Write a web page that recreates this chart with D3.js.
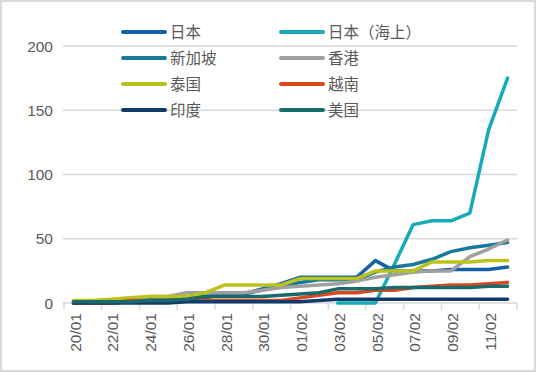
<!DOCTYPE html>
<html>
<head>
<meta charset="utf-8">
<script src="https://d3js.org/d3.v7.min.js"></script>
<style>
  body { margin: 0; background: #fff; }
  svg { display: block; font-family: Arial, "Liberation Sans", "Noto Sans CJK SC", sans-serif; }
  .grid line { stroke: #d9d9d9; stroke-width: 1.5; }
  .tick-lbl { fill: #595959; }
  .series { fill: none; stroke-width: 3.5; stroke-linejoin: round; stroke-linecap: round; }
</style>
</head>
<body>
<svg width="536" height="372"></svg>
<script>
// categories: daily, 20/01 .. 12/02
const dates = ["20/01","21/01","22/01","23/01","24/01","25/01","26/01","27/01","28/01","29/01","30/01","31/01",
               "01/02","02/02","03/02","04/02","05/02","06/02","07/02","08/02","09/02","10/02","11/02","12/02"];
const yTicks = [0, 50, 100, 150, 200];

// series values (null = no data)
const japan     = [1,1,1,1,2,3,4,4,7,7,11,15,20,20,20,20,33,25,25,25,26,26,26,28];
const japanShip = [null,null,null,null,null,null,null,null,null,null,null,null,null,null,0,0,0,30,61,64,64,70,135,175];
const singapore = [0,0,0,1,3,3,4,5,7,7,10,13,16,18,18,18,24,28,30,34,40,43,45,47];
const hongkong  = [0,0,1,2,5,5,8,8,8,8,10,12,13,14,15,17,20,22,24,25,25,36,42,49];
const thailand  = [2,2,3,4,5,5,5,8,14,14,14,14,19,19,19,19,25,25,25,32,32,32,33,33];
const vietnam   = [0,0,0,2,2,2,2,2,2,2,2,2,4,6,8,8,10,10,12,13,14,14,15,16];
const india     = [0,0,0,0,0,0,1,1,1,1,1,1,1,2,3,3,3,3,3,3,3,3,3,3];
const usa       = [1,1,1,1,2,2,3,5,5,5,5,6,7,8,11,11,11,12,12,12,12,12,13,13];

const names  = ["日本", "日本（海上）", "新加坡", "香港", "泰国", "越南", "印度", "美国"];
const colors = ["#1560ab", "#17aab9", "#17799c", "#a0a0a0", "#bcc21c", "#d9481f", "#123b6c", "#186b6c"];
const seriesData = [japan, japanShip, singapore, hongkong, thailand, vietnam, india, usa];

const svg = d3.select("svg");

// outer frame
svg.append("rect")
    .attr("x", 1).attr("y", 1).attr("width", 534).attr("height", 370)
    .attr("fill", "#fff").attr("stroke", "#d9d9d9").attr("stroke-width", 2);

const plotL = 64, plotR = 517, plotT = 46, plotB = 303;

const x = d3.scaleBand().domain(dates).range([plotL, plotR]);
const y = d3.scaleLinear().domain([0, 200]).range([plotB, plotT]);

// gridlines
svg.append("g").attr("class", "grid")
  .selectAll("line")
  .data(yTicks.filter(d => d > 0))
  .enter().append("line")
    .attr("x1", plotL - 1).attr("x2", plotR)
    .attr("y1", d => y(d)).attr("y2", d => y(d));

// y labels
svg.append("g")
  .selectAll("text")
  .data(yTicks)
  .enter().append("text")
    .attr("class", "tick-lbl")
    .attr("x", 53)
    .attr("y", d => y(d))
    .attr("dy", "0.36em")
    .attr("text-anchor", "end")
    .style("font-size", "15.5px")
    .text(d => d);

// x axis line + ticks between categories, every 2 days
svg.append("line")
    .attr("x1", plotL - 1).attr("x2", plotR)
    .attr("y1", plotB).attr("y2", plotB)
    .attr("stroke", "#d9d9d9").attr("stroke-width", 1.5);

const tickIdx = d3.range(0, dates.length + 1, 2);
svg.append("g")
  .selectAll("line")
  .data(tickIdx)
  .enter().append("line")
    .attr("x1", i => plotL + i * x.bandwidth())
    .attr("x2", i => plotL + i * x.bandwidth())
    .attr("y1", plotB).attr("y2", plotB + 7)
    .attr("stroke", "#d9d9d9").attr("stroke-width", 1.5);

svg.append("g")
  .selectAll("text")
  .data(dates.filter((d, i) => i % 2 === 0))
  .enter().append("text")
    .attr("class", "tick-lbl")
    .attr("transform", d => `translate(${x(d) + x.bandwidth() / 2 + 1.5},${plotB + 10}) rotate(-90)`)
    .attr("dy", "0.36em")
    .attr("text-anchor", "end")
    .style("font-size", "15.5px")
    .text(d => d);

// series lines
const line = d3.line()
    .defined(d => d != null)
    .x((d, i) => x(dates[i]) + x.bandwidth() / 2)
    .y(d => y(d));

svg.append("g")
  .selectAll("path")
  .data(seriesData)
  .enter().append("path")
    .attr("class", "series")
    .attr("stroke", (d, i) => colors[i])
    .attr("d", d => line(d));

// legend, 2 columns
const legend = svg.append("g");
names.forEach((n, i) => {
    const lx = i % 2 === 0 ? 123 : 281;
    const ly = 32 + Math.floor(i / 2) * 26;
    legend.append("line")
        .attr("x1", lx).attr("x2", lx + 42)
        .attr("y1", ly).attr("y2", ly)
        .attr("stroke", colors[i]).attr("stroke-width", 4)
        .attr("stroke-linecap", "round");
    legend.append("text")
        .attr("class", "tick-lbl")
        .attr("x", lx + 47).attr("y", ly)
        .attr("dy", "0.36em")
        .style("font-size", "15.5px")
        .text(n);
});
</script>
</body>
</html>
